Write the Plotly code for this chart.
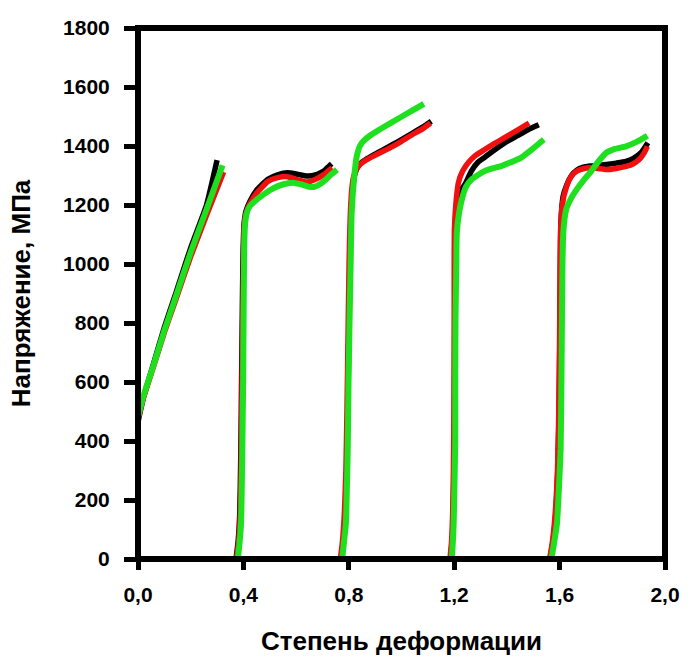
import plotly.graph_objects as go

# Strain (x) and stress in MPa (y) for the three test runs; None separates
# the individual loading passes.
black_x = [0.0, 0.02, 0.06, 0.10, 0.145, 0.20, 0.26, 0.30, None,
           0.372, 0.380, 0.386, 0.390, 0.393, 0.396, 0.399, 0.403, 0.41, 0.425, 0.45, 0.493, 0.53, 0.568, 0.60, 0.643, 0.68, 0.705, 0.72, 0.735, None,
           0.772, 0.780, 0.787, 0.792, 0.796, 0.800, 0.804, 0.808, 0.814, 0.821, 0.831, 0.843, 0.866, 0.893, 0.93, 0.967, 1.00, 1.042, 1.08, 1.113, None,
           1.186, 1.192, 1.196, 1.199, 1.201, 1.202, 1.203, 1.205, 1.212, 1.225, 1.241, 1.265, 1.29, 1.316, 1.35, 1.39, 1.44, 1.48, 1.521, None,
           1.564, 1.575, 1.585, 1.593, 1.598, 1.601, 1.603, 1.605, 1.613, 1.627, 1.645, 1.665, 1.69, 1.715, 1.745, 1.777, 1.815, 1.852, 1.88, 1.91, 1.935]
black_y = [465, 545, 665, 785, 905, 1055, 1200, 1352, None,
           0, 60, 150, 350, 600, 850, 1050, 1140, 1180, 1213, 1250, 1287, 1302, 1309, 1305, 1298, 1304, 1315, 1328, 1340, None,
           0, 60, 150, 300, 500, 750, 1000, 1150, 1250, 1298, 1325, 1340, 1355, 1369, 1387, 1405, 1422, 1444, 1464, 1484, None,
           0, 60, 150, 300, 500, 800, 1000, 1150, 1220, 1250, 1270, 1315, 1345, 1362, 1385, 1410, 1435, 1455, 1472, None,
           0, 60, 150, 300, 500, 750, 1000, 1140, 1228, 1268, 1300, 1318, 1328, 1332, 1334, 1337, 1342, 1348, 1358, 1378, 1411]

red_x = [0.0, 0.02, 0.06, 0.10, 0.145, 0.20, 0.26, 0.325, None,
         0.374, 0.382, 0.388, 0.392, 0.395, 0.398, 0.401, 0.404, 0.412, 0.425, 0.45, 0.493, 0.53, 0.568, 0.60, 0.643, 0.68, 0.705, 0.72, 0.737, None,
         0.768, 0.776, 0.783, 0.789, 0.793, 0.797, 0.801, 0.805, 0.811, 0.818, 0.83, 0.842, 0.865, 0.892, 0.93, 0.967, 1.00, 1.042, 1.08, 1.110, None,
         1.184, 1.190, 1.194, 1.197, 1.199, 1.200, 1.200, 1.201, 1.207, 1.216, 1.232, 1.253, 1.28, 1.316, 1.35, 1.391, 1.44, 1.484, None,
         1.562, 1.573, 1.583, 1.592, 1.597, 1.600, 1.602, 1.604, 1.610, 1.627, 1.645, 1.665, 1.69, 1.715, 1.745, 1.777, 1.815, 1.852, 1.88, 1.902, 1.92, 1.933]
red_y = [475, 545, 655, 768, 883, 1025, 1165, 1312, None,
         0, 60, 150, 350, 600, 850, 1050, 1140, 1178, 1205, 1240, 1280, 1293, 1296, 1287, 1278, 1290, 1303, 1314, 1326, None,
         0, 60, 150, 300, 500, 750, 1000, 1150, 1250, 1295, 1322, 1337, 1352, 1365, 1382, 1399, 1416, 1439, 1458, 1478, None,
         0, 60, 150, 300, 500, 800, 1000, 1120, 1210, 1276, 1315, 1343, 1367, 1388, 1407, 1428, 1454, 1478, None,
         0, 60, 150, 300, 500, 750, 1000, 1120, 1200, 1264, 1298, 1315, 1323, 1326, 1324, 1320, 1324, 1331, 1340, 1354, 1375, 1399]

green_x = [0.0, 0.02, 0.06, 0.10, 0.145, 0.20, 0.26, 0.321, None,
           0.379, 0.386, 0.391, 0.394, 0.396, 0.399, 0.401, 0.403, 0.406, 0.412, 0.425, 0.45, 0.468, 0.50, 0.531, 0.56, 0.593, 0.62, 0.649, 0.67, 0.693, 0.715, 0.735, 0.755, None,
           0.775, 0.782, 0.789, 0.793, 0.796, 0.799, 0.803, 0.807, 0.811, 0.82, 0.830, 0.842, 0.855, 0.885, 0.917, 0.955, 0.992, 1.04, 1.085, None,
           1.191, 1.195, 1.198, 1.201, 1.204, 1.204, 1.205, 1.208, 1.210, 1.218, 1.229, 1.245, 1.266, 1.29, 1.316, 1.345, 1.378, 1.415, 1.453, 1.50, 1.540, None,
           1.569, 1.580, 1.590, 1.598, 1.604, 1.607, 1.609, 1.611, 1.614, 1.625, 1.645, 1.665, 1.69, 1.715, 1.745, 1.777, 1.81, 1.852, 1.89, 1.926, 1.933]
green_y = [480, 550, 660, 775, 893, 1040, 1185, 1335, None,
           0, 60, 120, 250, 375, 600, 850, 1050, 1130, 1170, 1197, 1218, 1230, 1250, 1264, 1272, 1275, 1270, 1262, 1262, 1272, 1288, 1305, 1320, None,
           0, 60, 120, 250, 375, 600, 814, 1000, 1174, 1290, 1365, 1400, 1416, 1438, 1456, 1476, 1495, 1520, 1543, None,
           0, 60, 120, 250, 400, 600, 814, 1000, 1107, 1170, 1219, 1262, 1287, 1302, 1315, 1324, 1332, 1345, 1360, 1392, 1422, None,
           0, 60, 120, 250, 375, 600, 814, 1000, 1107, 1185, 1225, 1253, 1283, 1309, 1345, 1377, 1390, 1399, 1413, 1431, 1435]

x_ticks = [0.0, 0.4, 0.8, 1.2, 1.6, 2.0]
x_tick_text = ["0,0", "0,4", "0,8", "1,2", "1,6", "2,0"]
y_ticks = [0, 200, 400, 600, 800, 1000, 1200, 1400, 1600, 1800]

FONT = "Liberation Sans, Arial, sans-serif"

fig = go.Figure()
for xs, ys, color, width in [
    (black_x, black_y, "#000000", 5.5),
    (red_x, red_y, "#f01010", 5.5),
    (green_x, green_y, "#1fe01f", 6),
]:
    fig.add_trace(go.Scatter(
        x=xs, y=ys, mode="lines",
        line=dict(color=color, width=width, shape="spline", smoothing=0.5),
        connectgaps=False, showlegend=False, hoverinfo="skip",
    ))

# Heavy frame around the plotting area
fig.add_shape(type="rect", xref="paper", yref="paper", x0=0, y0=0, x1=1, y1=1,
              line=dict(color="black", width=6), layer="above")

fig.update_layout(
    width=692, height=662,
    margin=dict(l=138, r=19, t=28, b=101),
    paper_bgcolor="white", plot_bgcolor="white",
    font=dict(family=FONT, color="black"),
    xaxis=dict(
        range=[0, 2], tickvals=x_ticks, ticktext=x_tick_text,
        showgrid=False, zeroline=False, showline=False,
        ticks="outside", ticklen=10, tickwidth=5, tickcolor="black",
        tickfont=dict(size=21, family=FONT, weight="bold"),
        ticklabelstandoff=7,
        title=dict(text="<b>Степень деформации</b>", standoff=26,
                   font=dict(size=26, family=FONT)),
    ),
    yaxis=dict(
        range=[0, 1800], tickvals=y_ticks,
        showgrid=False, zeroline=False, showline=False,
        ticks="outside", ticklen=13, tickwidth=5, tickcolor="black",
        tickfont=dict(size=21, family=FONT, weight="bold"),
        ticklabelstandoff=10,
        title=dict(text="<b>Напряжение, МПа</b>", standoff=24,
                   font=dict(size=26, family=FONT)),
    ),
)

fig.write_html("out.html")
